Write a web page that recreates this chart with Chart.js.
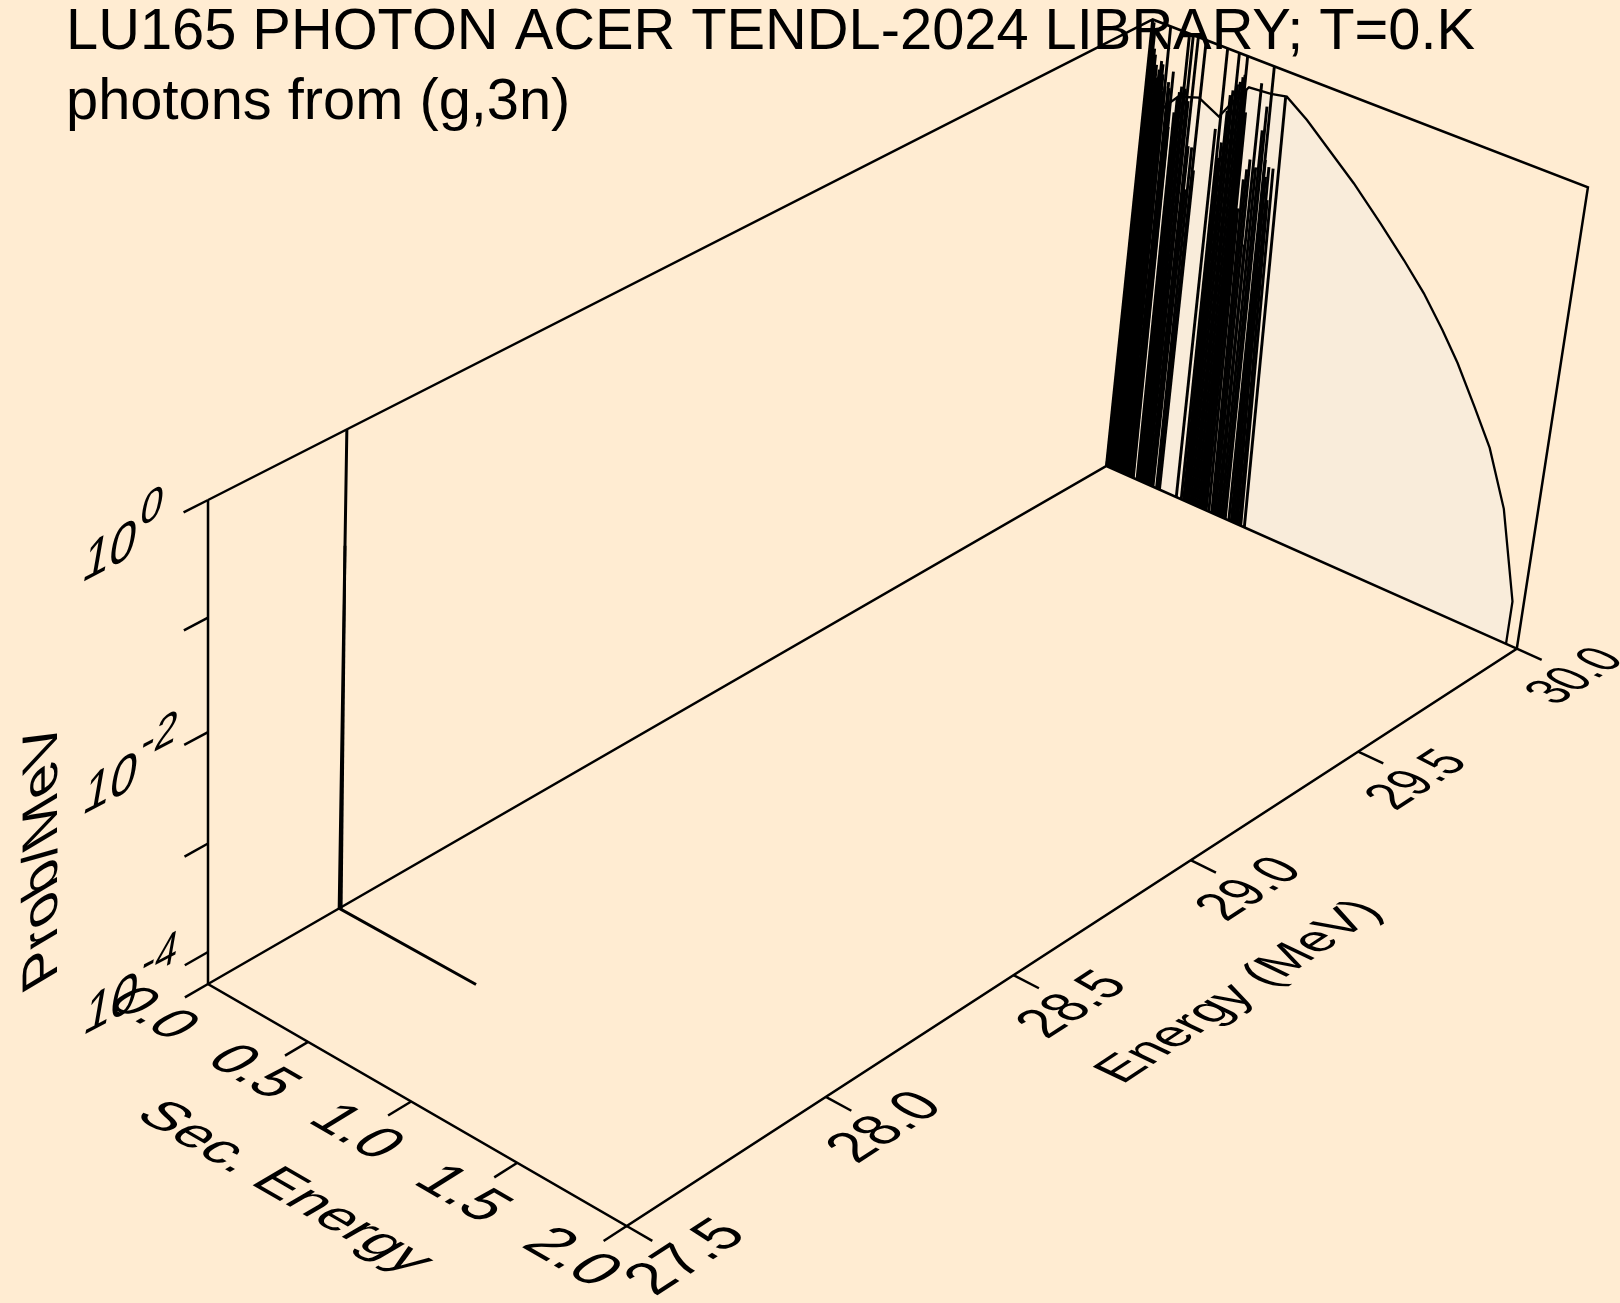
<!DOCTYPE html>
<html>
<head>
<meta charset="utf-8">
<title>LU165 photons from (g,3n)</title>
<script src="https://cdn.jsdelivr.net/npm/chart.js@4"></script>
<style>
  html, body { margin: 0; padding: 0; background: #FFECD2; }
  canvas { display: block; }
</style>
</head>
<body>
<canvas id="myChart" width="1620" height="1303"></canvas>
<script>
const titleLines = ['LU165 PHOTON ACER TENDL-2024 LIBRARY; T=0.K', 'photons from (g,3n)'];

// axis ranges and ticks
const secRange = [0, 2];
const energyRange = [27.5, 30];
const logRange = [-4.3, 0];
const secTicks = [0, 0.5, 1, 1.5, 2];
const energyTicks = [27.5, 28, 28.5, 29, 29.5, 30];
const logTicks = [-4, -3, -2, -1, 0];
const logLabels = [-4, -2, 0];

// spectrum at the low incident energy: one line at zero plus the floor
const lowEnergy = 27.825;
const lowSec = [0, 0, 0.68];
const lowLog = [0, -4.3, -4.3];
const lowDoubleSec = [0, 0.01];
const lowDoubleLog = [-1.0, -4.3];

// continuum at 30 MeV
const contSec = [0, 0.05, 0.097, 0.156, 0.253, 0.355, 0.406, 0.477, 0.58, 0.653, 0.756, 0.878, 0.999, 1.14, 1.264, 1.371, 1.474, 1.56, 1.66, 1.752, 1.852, 1.95, 1.95];
const contLog = [-4.3, -1.0, -0.733, -0.596, -0.531, -0.63, -0.465, -0.268, -0.25, -0.221, -0.356, -0.552, -0.746, -1.003, -1.242, -1.463, -1.719, -1.955, -2.278, -2.589, -3.08, -3.885, -4.3];

// discrete gamma lines at 30 MeV: foot on the floor, peak and height
const gammaFoot = [
  0, 0.008, 0.016, 0.024, 0.032, 0.04, 0.048, 0.056, 0.064, 0.072, 0.08, 0.088, 0.096, 0.104, 0.112, 0.12, 0.128, 0.134, 0.137,
  0.156, 0.164, 0.172, 0.18, 0.188, 0.196, 0.204, 0.212, 0.222, 0.23, 0.237,
  0.255, 0.262, 0.27,
  0.355, 0.38,
  0.392, 0.4, 0.408, 0.418, 0.428, 0.438, 0.448, 0.458, 0.468, 0.478, 0.488, 0.497, 0.505,
  0.518,
  0.533, 0.54, 0.55, 0.56, 0.57, 0.58, 0.59, 0.6,
  0.618, 0.63, 0.64, 0.65, 0.66, 0.67, 0.677,
  0.695
];
const gammaPeak = [
  0, 0.008, 0.015, 0.023, 0.03, 0.04, 0.047, 0.055, 0.062, 0.07, 0.075, 0.082, 0.09, 0.087, 0.105, 0.11, 0.118, 0.122, 0.125,
  0.145, 0.153, 0.16, 0.168, 0.178, 0.185, 0.196, 0.205, 0.22, 0.228, 0.236,
  0.245, 0.258, 0.265,
  0.345, 0.36,
  0.372, 0.38, 0.39, 0.396, 0.406, 0.416, 0.424, 0.435, 0.445, 0.453, 0.455, 0.465, 0.475,
  0.49,
  0.5, 0.51, 0.52, 0.533, 0.54, 0.55, 0.56, 0.569,
  0.581, 0.59, 0.6, 0.61, 0.615, 0.62, 0.63,
  0.648
];
const gammaLog = [
  0, -0.02, -0.1, -0.25, -0.3, -0.387, -0.5, -0.42, -0.336, -0.36, -0.45, -0.6, -0.55, 0, -0.5, -0.55, -0.7, -0.39, -0.9,
  -0.75, -0.6, -0.55, -0.494, -0.03, -0.5, 0, -0.6, 0, -1.0, -1.4,
  -1.0, -0.01, -1.2,
  -0.75, 0,
  -1.0, -0.85, -0.55, -0.4, -0.35, 0, -0.28, -0.25, -0.2, -0.173, 0, -0.3, -0.5,
  -1.38,
  -1.1, -1.0, -0.9, -0.189, -1.68, -0.95, -0.6, -0.376,
  0, -0.85, -1.0, -0.9, -1.85, -1.2, -0.9,
  -0.228
];

const lineColor = '#000000';
const fillColor = '#F9ECDA';

// perspective view of the box, numbers fitted to the box corners
function project(sec, energy, logP) {
  const s = (sec - secRange[0]) / (secRange[1] - secRange[0]);
  const e = (energy - energyRange[0]) / (energyRange[1] - energyRange[0]);
  const z = (logP - logRange[0]) / (logRange[1] - logRange[0]);
  const w = 1 - 0.0571 * s + 0.1442 * e - 0.056 * z;
  return {
    x: (208 + 382.9 * s + 1058 * e - 11.6 * z) / w,
    y: (984 + 172 * s - 450.8 * e - 512 * z) / w
  };
}

const secMin = secRange[0], secMax = secRange[1];
const eMin = energyRange[0], eMax = energyRange[1];
const zMin = logRange[0], zMax = logRange[1];
const secTickLen = 0.115;
const energyTickLen = 0.056;

function lineSet(points, width) {
  return {
    data: points,
    showLine: true,
    borderColor: lineColor,
    borderWidth: width || 2.5,
    pointRadius: 0,
    tension: 0,
    fill: false,
    clip: false,
    borderJoinStyle: 'miter'
  };
}

const datasets = [];

// continuum first, the plugin fills under it
datasets.push(lineSet(contSec.map((v, i) => project(v, eMax, contLog[i])), 2.3));

// box
datasets.push(lineSet([
  project(secMin, eMin, zMax), project(secMin, eMin, zMin), project(secMax, eMin, zMin),
  project(secMax, eMax, zMin), project(secMax, eMax, zMax), project(secMin, eMax, zMax),
  project(secMin, eMin, zMax)
]));
datasets.push(lineSet([project(secMin, eMin, zMin), project(secMin, eMax, zMin), project(secMax, eMax, zMin)]));

// ticks
secTicks.forEach(v => {
  datasets.push(lineSet([project(v, eMin, zMin), project(v, eMin - energyTickLen, zMin)]));
});
energyTicks.forEach(v => {
  datasets.push(lineSet([project(secMax, v, zMin), project(secMax + secTickLen, v, zMin)]));
});
logTicks.forEach(v => {
  datasets.push(lineSet([project(secMin, eMin, v), project(secMin, eMin - energyTickLen, v)]));
});

// low energy slice
datasets.push(lineSet(lowSec.map((v, i) => project(v, lowEnergy, lowLog[i])), 3));
datasets.push(lineSet(lowDoubleSec.map((v, i) => project(v, lowEnergy, lowDoubleLog[i])), 2.8));

// gamma lines
gammaFoot.forEach((foot, i) => {
  datasets.push(lineSet([project(foot, eMax, zMin), project(gammaPeak[i], eMax, gammaLog[i])], 2.9));
});

// text laid into the planes of the box, (ux,uy) along the baseline, (vx,vy) glyph up
function skewText(ctx, text, x, y, font, ux, uy, vx, vy) {
  ctx.save();
  ctx.transform(ux, uy, -vx, -vy, x, y);
  ctx.font = font;
  ctx.textAlign = 'center';
  ctx.textBaseline = 'middle';
  ctx.fillStyle = lineColor;
  ctx.fillText(text, 0, 0);
  ctx.restore();
}

// floor text follows the perspective, so its size comes from the view itself
const glyphSec = 0.0048;
const glyphEnergyAlong = 0.00235;
const glyphEnergyUp = 0.0025;

function floorBasis(sec, energy, de) {
  const p = project(sec, energy, zMin);
  const a = project(sec + glyphSec, energy, zMin);
  const b = project(sec, energy + de, zMin);
  return { sx: a.x - p.x, sy: a.y - p.y, ex: b.x - p.x, ey: b.y - p.y };
}

const boxDecor = {
  id: 'boxDecor',
  beforeDatasetsDraw(chart) {
    // light area under the 30 MeV spectrum
    const ctx = chart.ctx;
    const pts = chart.getDatasetMeta(0).data;
    ctx.save();
    ctx.beginPath();
    pts.forEach((p, i) => {
      if (i === 0) ctx.moveTo(p.x, p.y); else ctx.lineTo(p.x, p.y);
    });
    ctx.closePath();
    ctx.fillStyle = fillColor;
    ctx.fill();
    ctx.restore();
  },
  afterDraw(chart) {
    const ctx = chart.ctx;
    const xs = chart.scales.x, ys = chart.scales.y;
    const at = p => ({ x: xs.getPixelForValue(p.x), y: ys.getPixelForValue(p.y) });
    const labelFont = '50px "Liberation Sans", Arial, sans-serif';
    const expFont = '42px "Liberation Sans", Arial, sans-serif';

    ctx.save();
    ctx.font = '57.8px "Liberation Sans", Arial, sans-serif';
    ctx.textAlign = 'left';
    ctx.textBaseline = 'alphabetic';
    ctx.fillStyle = lineColor;
    ctx.fillText(titleLines[0], 66, 49);
    ctx.fillText(titleLines[1], 66, 119);
    ctx.restore();

    energyTicks.forEach(v => {
      const p = at(project(secMax + secTickLen, v, zMin));
      const b = floorBasis(secMax, v, glyphEnergyAlong);
      skewText(ctx, v.toFixed(1), p.x + 35, p.y + 17, labelFont, b.ex, b.ey, -b.sx, -b.sy);
    });
    secTicks.forEach(v => {
      const p = at(project(v, eMin - energyTickLen, zMin));
      const b = floorBasis(v, eMin, glyphEnergyUp);
      skewText(ctx, v.toFixed(1), p.x - 33, p.y + 17, labelFont, b.sx, b.sy, b.ex, b.ey);
    });
    logLabels.forEach(v => {
      const p = at(project(secMin, eMin - energyTickLen, v));
      skewText(ctx, '10', p.x - 74, p.y + 41, labelFont, 0.95, -0.5, 0.2, -1.15);
      skewText(ctx, String(v), p.x - (v === 0 ? 32 : 25), p.y - (v === 0 ? 4 : 8), expFont, 0.95, -0.5, 0.2, -1.15);
    });

    skewText(ctx, 'Energy (MeV)', 1240, 992, labelFont, 0.85, -0.56, -0.96, -0.46);
    skewText(ctx, 'Sec. Energy', 284, 1188, labelFont, 1.01, 0.585, 0.95, -0.56);
    skewText(ctx, 'Prob/MeV', 43, 855, labelFont, 0, -1.17, -1.0, 0.6);
  }
};

const ctx = document.getElementById('myChart').getContext('2d');
const myChart = new Chart(ctx, {
  type: 'scatter',
  data: { datasets: datasets },
  options: {
    responsive: false,
    animation: false,
    layout: { padding: 0 },
    plugins: {
      legend: { display: false },
      title: { display: false },
      tooltip: { enabled: false }
    },
    scales: {
      x: { type: 'linear', min: 0, max: 1620, display: false },
      y: { type: 'linear', min: 0, max: 1303, reverse: true, display: false }
    }
  },
  plugins: [boxDecor]
});
</script>
</body>
</html>
